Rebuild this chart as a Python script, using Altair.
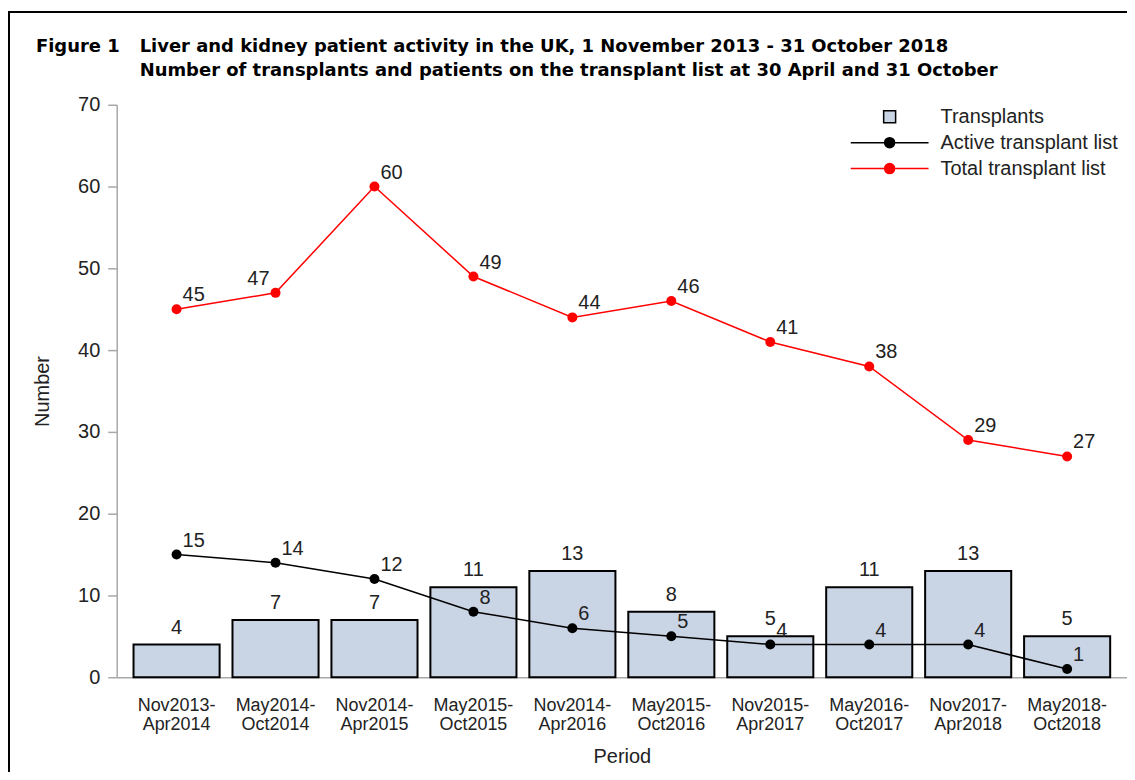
import altair as alt
import pandas as pd

periods = ["Nov2013-Apr2014", "May2014-Oct2014", "Nov2014-Apr2015", "May2015-Oct2015",
           "Nov2014-Apr2016", "May2015-Oct2016", "Nov2015-Apr2017", "May2016-Oct2017",
           "Nov2017-Apr2018", "May2018-Oct2018"]
transplants = [4, 7, 7, 11, 13, 8, 5, 11, 13, 5]
active = [15, 14, 12, 8, 6, 5, 4, 4, 4, 1]
total = [45, 47, 60, 49, 44, 46, 41, 38, 29, 27]
series_names = ["Transplants", "Active transplant list", "Total transplant list"]
y_ticks = [0, 10, 20, 30, 40, 50, 60, 70]
figure_label = "Figure 1"
title_lines = ["Liver and kidney patient activity in the UK, 1 November 2013 - 31 October 2018",
               "Number of transplants and patients on the transplant list at 30 April and 31 October"]

rows = []
for name, vals in zip(series_names, [transplants, active, total]):
    for i, (p, v) in enumerate(zip(periods, vals)):
        rows.append({"period": p, "series": name, "value": v, "order": i})
df = pd.DataFrame(rows)

FONT = "Liberation Sans"
TITLE_FONT = "DejaVu Sans"
TEXT_COL = "#222222"
AXIS_COL = "#a8a8a8"
BAR_FILL = "#c9d4e5"

fill_scale = alt.Scale(domain=series_names, range=[BAR_FILL, "black", "red"])
stroke_scale = alt.Scale(domain=series_names, range=["black", "black", "red"])
line_circle = "M-3.9,0H3.9M-0.5,0A0.5,0.5 0 1,0 0.5,0A0.5,0.5 0 1,0 -0.5,0Z"
square = "M-0.6,-0.6H0.6V0.6H-0.6Z"
shape_scale = alt.Scale(domain=series_names, range=[square, line_circle, line_circle])

x_enc = alt.X("period:N", sort=periods,
              scale=alt.Scale(paddingInner=0.13, paddingOuter=0.17),
              axis=alt.Axis(title="Period", labelAngle=0, ticks=False,
                            labelExpr="[split(datum.label, '-')[0] + '-', split(datum.label, '-')[1]]",
                            labelFontSize=18, labelLineHeight=19, labelPadding=19,
                            labelColor=TEXT_COL, labelFont=FONT,
                            titleFont=FONT, titleFontSize=20, titleFontWeight="normal",
                            titleColor=TEXT_COL, titlePadding=14,
                            domainColor=AXIS_COL, domainWidth=1.5))
y_enc = alt.Y("value:Q", scale=alt.Scale(domain=[0, 70], nice=False),
              axis=alt.Axis(title="Number", values=y_ticks, tickSize=9, tickColor=AXIS_COL,
                            domainColor=AXIS_COL, domainWidth=1.5, tickWidth=1.5,
                            labelFontSize=20, labelPadding=8, labelColor=TEXT_COL, labelFont=FONT,
                            titleFont=FONT, titleFontSize=20, titleFontWeight="normal",
                            titleColor=TEXT_COL, titlePadding=25, grid=False))
x_plain = alt.X("period:N", sort=periods)

base = alt.Chart(df)
bar_df = base.transform_filter(alt.datum.series == series_names[0])

bars = bar_df.mark_bar(fill=BAR_FILL, stroke="black", strokeWidth=2).encode(x=x_enc, y=y_enc)

bar_labels = bar_df.mark_text(
    dy=-11, baseline="alphabetic", fontSize=20, font=FONT, color=TEXT_COL).encode(
    x=x_plain, y="value:Q", text="value:Q")

layers = []
for name, col in [(series_names[1], "black"), (series_names[2], "red")]:
    sd = base.transform_filter(alt.datum.series == name)
    layers.append(sd.mark_line(strokeWidth=1.5, color=col).encode(
        x=x_plain, y="value:Q", order="order:Q"))
    layers.append(sd.mark_point(filled=True, size=100, opacity=1, color=col).encode(
        x=x_plain, y="value:Q"))
    labelled = sd.transform_window(
        nxt="lead(value)", sort=[alt.SortField("order")]
    ).transform_calculate(left="datum.nxt != null && datum.nxt - datum.value > 8")
    layers.append(labelled.transform_filter("!datum.left").mark_text(
        align="left", dx=6, dy=-8, baseline="alphabetic", fontSize=20, font=FONT, color=TEXT_COL
    ).encode(x=x_plain, y="value:Q", text="value:Q"))
    layers.append(labelled.transform_filter("datum.left").mark_text(
        align="right", dx=-6, dy=-8, baseline="alphabetic", fontSize=20, font=FONT, color=TEXT_COL
    ).encode(x=x_plain, y="value:Q", text="value:Q"))

legend_props = dict(title=None, orient="none", legendX=764, legendY=1,
                    padding=0, symbolSize=400, labelOffset=40,
                    rowPadding=5, labelFontSize=20, labelFont=FONT,
                    labelColor=TEXT_COL, symbolStrokeWidth=1.5,
                    symbolOpacity=1, labelLimit=400)
legend_layer = base.mark_point(filled=True, opacity=0, strokeWidth=1.5).encode(
    x=x_plain, y="value:Q",
    fill=alt.Fill("series:N", scale=fill_scale, legend=alt.Legend(**legend_props)),
    stroke=alt.Stroke("series:N", scale=stroke_scale, legend=alt.Legend(**legend_props)),
    shape=alt.Shape("series:N", scale=shape_scale, legend=alt.Legend(**legend_props)),
)

frame = alt.Chart(alt.Data(values=[{"a": 1}])).mark_rect(
    fill=None, stroke="black", strokeWidth=2).encode(
    x=alt.value(-108), y=alt.value(-93), x2=alt.value(1200), y2=alt.value(800))

title_data = alt.Data(values=[{"fig": figure_label, "l1": title_lines[0], "l2": title_lines[1]}])
title_style = dict(align="left", baseline="alphabetic", font=TITLE_FONT, fontSize=18,
                   fontWeight="bold", color="black")
t_fig = alt.Chart(title_data).mark_text(**title_style).encode(
    x=alt.value(-81), y=alt.value(-53), text="fig:N")
t_l1 = alt.Chart(title_data).mark_text(**title_style).encode(
    x=alt.value(23), y=alt.value(-53), text="l1:N")
t_l2 = alt.Chart(title_data).mark_text(**title_style).encode(
    x=alt.value(23), y=alt.value(-29), text="l2:N")

chart = alt.layer(frame, bars, bar_labels, *layers, legend_layer, t_fig, t_l1, t_l2).properties(
    width=1013, height=574,
    padding={"left": 109, "top": 96, "right": 0, "bottom": 94},
    autosize=alt.AutoSizeParams(type="none"),
).configure(background="white").configure_view(stroke=None)

chart.save("out.html", embed_options={"renderer": "svg", "actions": False})
